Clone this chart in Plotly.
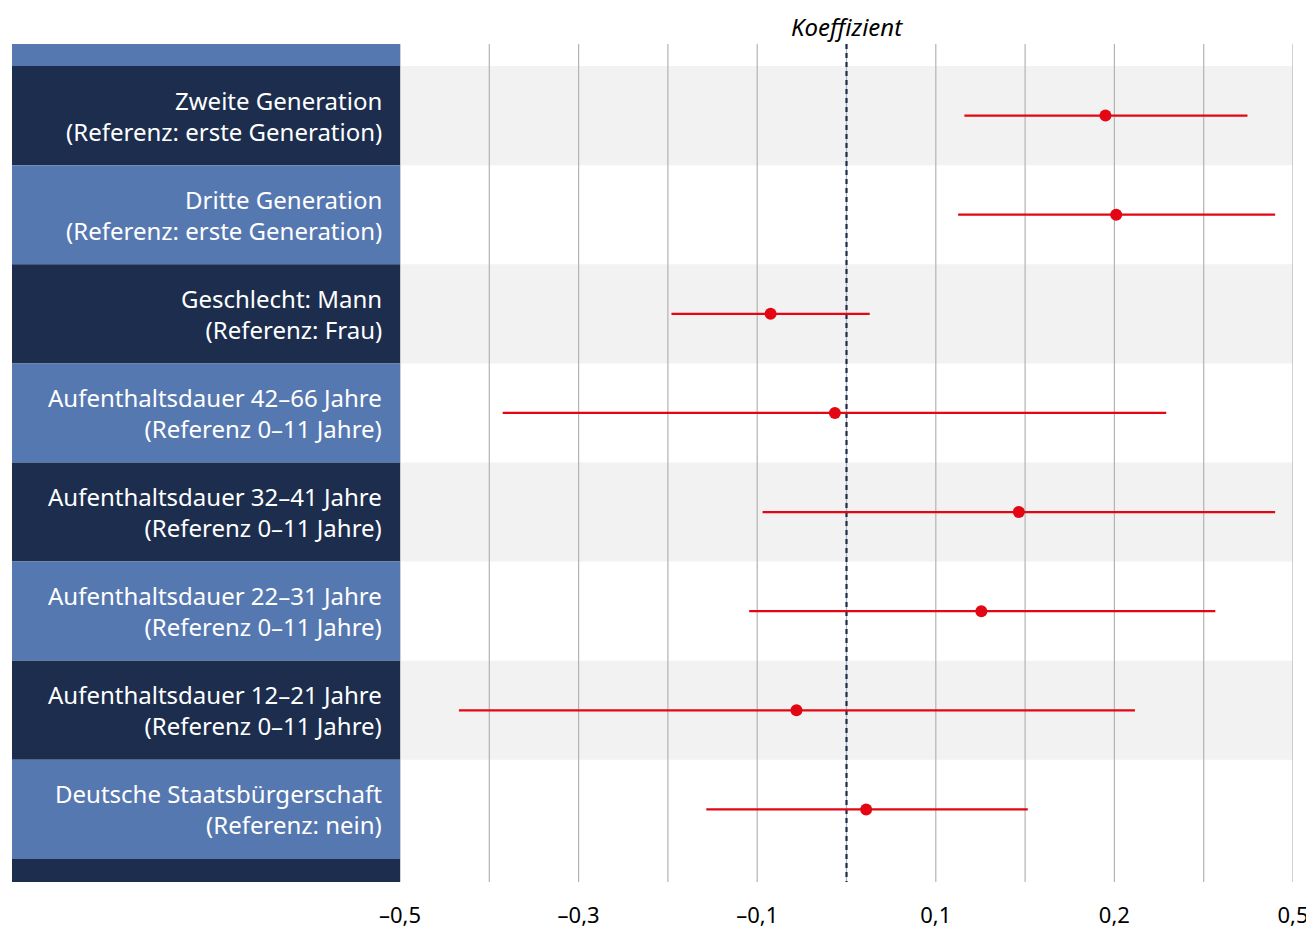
import plotly.graph_objects as go

labels = [
    "Zweite Generation<br>(Referenz: erste Generation)",
    "Dritte Generation<br>(Referenz: erste Generation)",
    "Geschlecht: Mann<br>(Referenz: Frau)",
    "Aufenthaltsdauer 42–66 Jahre<br>(Referenz 0–11 Jahre)",
    "Aufenthaltsdauer 32–41 Jahre<br>(Referenz 0–11 Jahre)",
    "Aufenthaltsdauer 22–31 Jahre<br>(Referenz 0–11 Jahre)",
    "Aufenthaltsdauer 12–21 Jahre<br>(Referenz 0–11 Jahre)",
    "Deutsche Staatsbürgerschaft<br>(Referenz: nein)",
]
coef = [0.290, 0.302, -0.085, -0.013, 0.193, 0.151, -0.056, 0.022]
ci_low = [0.132, 0.125, -0.196, -0.385, -0.094, -0.109, -0.434, -0.157]
ci_high = [0.449, 0.480, 0.026, 0.358, 0.480, 0.413, 0.323, 0.203]

tick_vals = [-0.5, -0.3, -0.1, 0.1, 0.3, 0.5]
tick_text = ["–0,5", "–0,3", "–0,1", "0,1", "0,2", "0,5"]
grid_vals = [-0.5, -0.4, -0.3, -0.2, -0.1, 0.0, 0.1, 0.2, 0.3, 0.4, 0.5]

DARK = "#1c2d4e"
BLUE = "#5678b0"
GRAY = "#f2f2f2"
RED = "#e30613"

n = len(labels)
ypos = list(range(n))
y_top = -0.5 - 22 / 99
y_bot = n - 0.5 + 23 / 99

# page body has an 8px offset; compensate so the chart lands where the reference has it
OFF = 8
W, H = 1314 - OFF, 929 - OFF
ml, mt = 12 - OFF, 44 - OFF
pw = 1293 - 12
ph = 882 - 44
mr = W - ml - pw
mb = H - mt - ph
dom0 = (400 - 12) / pw

fig = go.Figure()
fig.add_trace(go.Scatter(
    x=coef, y=ypos, mode="markers",
    marker=dict(color=RED, size=12),
    error_x=dict(type="data", symmetric=False,
                 array=[h - c for h, c in zip(ci_high, coef)],
                 arrayminus=[c - l for c, l in zip(coef, ci_low)],
                 color=RED, thickness=2.2, width=0),
    showlegend=False, hoverinfo="skip",
))

shapes = []
shapes.append(dict(type="rect", xref="paper", yref="y", x0=0, x1=dom0, y0=y_top, y1=-0.5,
                   fillcolor=BLUE, line_width=0, layer="below"))
for i in range(n):
    shapes.append(dict(type="rect", xref="paper", yref="y", x0=0, x1=dom0, y0=i - 0.5, y1=i + 0.5,
                       fillcolor=DARK if i % 2 == 0 else BLUE, line_width=0, layer="below"))
    if i % 2 == 0:
        shapes.append(dict(type="rect", xref="x domain", yref="y", x0=0, x1=1, y0=i - 0.5, y1=i + 0.5,
                           fillcolor=GRAY, line_width=0, layer="below"))
shapes.append(dict(type="rect", xref="paper", yref="y", x0=0, x1=dom0, y0=n - 0.5, y1=y_bot,
                   fillcolor=DARK if n % 2 == 0 else BLUE, line_width=0, layer="below"))
for g in grid_vals:
    shapes.append(dict(type="line", xref="x", yref="y", x0=g, x1=g, y0=y_top, y1=y_bot,
                       line=dict(color="#b3b3b3", width=1.2), layer="between"))
shapes.append(dict(type="line", xref="x", yref="y", x0=0, x1=0, y0=y_top, y1=y_bot,
                   line=dict(color=DARK, width=2.2, dash="5px,4px"), layer="between"))

annotations = []
for i, lab in enumerate(labels):
    annotations.append(dict(x=dom0, xref="paper", y=i, yref="y", text=lab, showarrow=False,
                            xanchor="right", yanchor="middle", align="right", xshift=-16,
                            font=dict(family="Noto Sans, Open Sans, sans-serif", size=24, color="white")))
annotations.append(dict(x=0, xref="x", y=1, yref="paper", yshift=18, text="<i>Koeffizient</i>",
                        showarrow=False, xanchor="center", yanchor="middle",
                        font=dict(family="Noto Sans, Open Sans, sans-serif", size=24, color="black")))

fig.update_layout(
    width=W, height=H,
    margin=dict(l=ml, r=mr, t=mt, b=mb, autoexpand=False),
    paper_bgcolor="white", plot_bgcolor="white",
    shapes=shapes, annotations=annotations,
    xaxis=dict(domain=[dom0, 1], range=[-0.5, 0.5], tickvals=tick_vals, ticktext=tick_text,
               showgrid=False, zeroline=False, showline=False, ticks="", automargin=False,
               tickfont=dict(family="Noto Sans, Open Sans, sans-serif", size=22, color="black"),
               ticklabelstandoff=18),
    yaxis=dict(range=[y_bot, y_top], showgrid=False, zeroline=False, showticklabels=False,
               showline=False, ticks="", automargin=False),
)

fig.write_html("out.html")
